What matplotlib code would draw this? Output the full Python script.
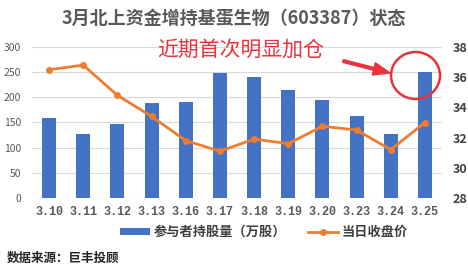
"""Northbound holdings vs close price, 603387, March."""

import matplotlib

matplotlib.use("Agg")
import matplotlib.pyplot as plt
from matplotlib.patches import Ellipse

dates = ["3.10", "3.11", "3.12", "3.13", "3.16", "3.17",
         "3.18", "3.19", "3.20", "3.23", "3.24", "3.25"]
holdings = [158, 128, 148, 188, 190, 249, 240, 214, 194, 162, 128, 250]
close_price = [36.5, 36.8, 34.8, 33.4, 31.8, 31.1, 31.9, 31.6, 32.75, 32.5, 31.2, 33.0]

title = "3月北上资金增持基蛋生物（603387）状态"
bar_label = "参与者持股量（万股）"
line_label = "当日收盘价"
note = "近期首次明显加仓"
source = "数据来源：巨丰投顾"

CJK = ["Noto Sans CJK SC", "DejaVu Sans"]
BLUE = "#4472C4"
ORANGE = "#ED7D31"
RED = "#E8323C"
W, H = 468, 275

plt.rcParams["font.family"] = CJK

fig = plt.figure(figsize=(W / 100, H / 100), dpi=100)
ax = fig.add_axes([32 / W, 1 - 198 / H, 410 / W, 151 / H])
ax2 = ax.twinx()

x = range(len(dates))
ax.bar(x, holdings, width=0.41, color=BLUE, zorder=2, label=bar_label)
ax.set_ylim(0, 300)
ax.set_yticks(range(0, 301, 50))
ax.set_xlim(-0.5, len(dates) - 0.5)
ax.set_xticks(list(x))
ax.set_xticklabels(dates, family="Liberation Mono", fontweight="bold",
                   fontsize=8.5, color="#595959")
ax.grid(axis="y", color="#D9D9D9", linewidth=0.8, zorder=0)
ax.tick_params(axis="y", labelsize=7.5, labelcolor="#595959", length=0, pad=8)
ax.tick_params(axis="x", length=0, pad=6)
for s in ax.spines.values():
    s.set_visible(False)

ax2.plot(list(x), close_price, color=ORANGE, linewidth=2, marker="o",
         markersize=4, zorder=3, label=line_label)
ax2.set_ylim(28, 38)
ax2.set_yticks(range(28, 39, 2))
ax2.tick_params(axis="y", length=0, pad=7.5, labelsize=9, labelcolor="#404040")
for lab in ax2.get_yticklabels():
    lab.set_fontweight("bold")
for s in ax2.spines.values():
    s.set_visible(False)

h1, l1 = ax.get_legend_handles_labels()
h2, l2 = ax2.get_legend_handles_labels()
fig.legend(h1 + h2, l1 + l2, loc="center", bbox_to_anchor=(264 / W, 1 - 232 / H),
           ncol=2, frameon=False, handlelength=2.3, handleheight=0.45,
           columnspacing=1.6, handletextpad=0.3,
           prop={"family": CJK, "weight": "bold", "size": 9.5})
for t in fig.legends[0].get_texts():
    t.set_color("#404040")

fig.text(234 / W, 1 - 18 / H, title, ha="center", va="center",
         fontsize=13, fontweight="bold", color="#595959")
fig.text(241 / W, 1 - 50 / H, note, ha="center", va="center",
         fontsize=15, color=RED)
fig.text(7 / W, 1 - 258 / H, source, ha="left", va="center",
         fontsize=9, fontweight="bold", color="#262626")

fig.add_artist(Ellipse((415.5, H - 75.5), 49, 47, transform=None,
                       fill=False, edgecolor=RED, linewidth=1.8))
ax.annotate("", xy=(390, H - 73), xytext=(343, H - 61),
            xycoords="figure pixels", textcoords="figure pixels",
            arrowprops=dict(arrowstyle="simple,head_width=0.9,head_length=1.2,tail_width=0.2",
                            color=RED, shrinkA=0, shrinkB=0))

fig.savefig("out.png", dpi=100)
